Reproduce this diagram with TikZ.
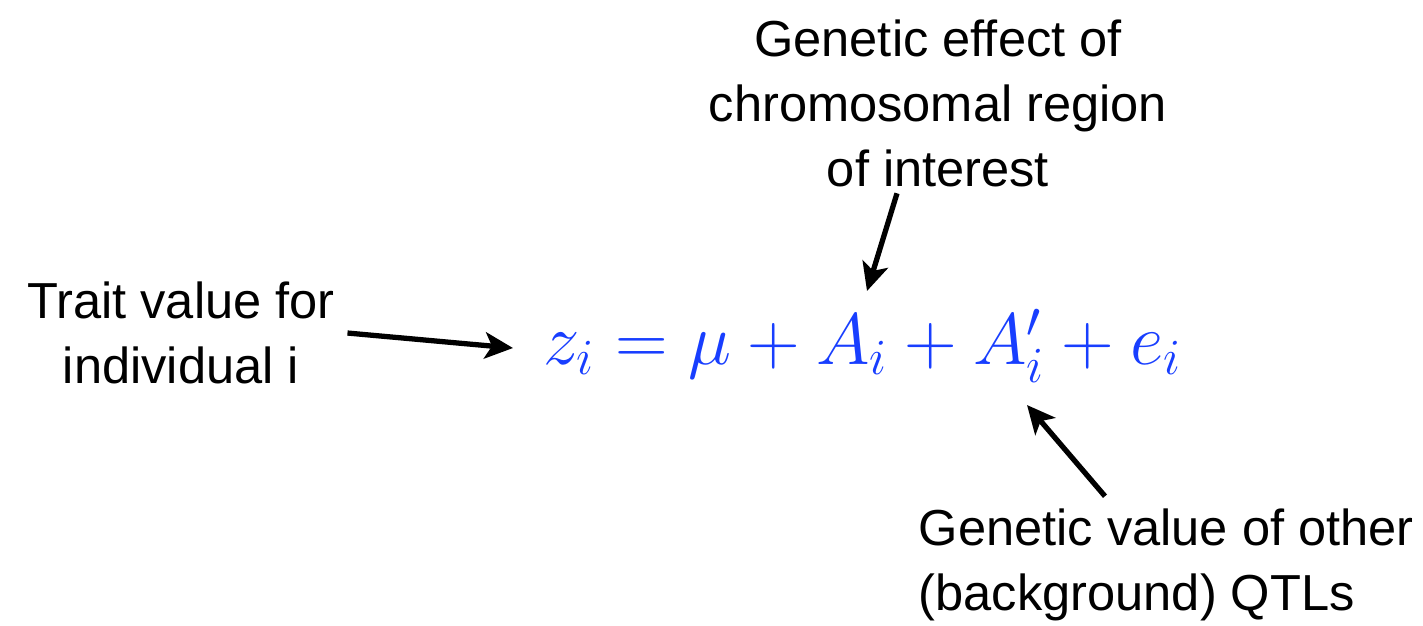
\documentclass[tikz,border=0pt]{standalone}
\usepackage{fontspec}
\setmainfont{Liberation Sans}
\usetikzlibrary{arrows.meta}
\definecolor{eqblue}{RGB}{24,62,255}

\begin{document}
\begin{tikzpicture}[x=1cm,y=1cm,font=\fontsize{14.4}{18.5}\selectfont,
  label text/.style={inner sep=0pt,align=center},
  pointer/.style={line width=1.5pt,-{Stealth[length=8pt,width=7.5pt,inset=2pt]}}]
\useasboundingbox (0,0) rectangle (14.23,-6.25);
\node[anchor=base,text=eqblue,inner sep=0pt] (model-eq) at (8.63,-3.64) {\fontsize{22.2}{26}\selectfont$z_i = \mu + A_i + A'_i + e_i$};
\node[label text] (trait-label) at (1.81,-3.33) {Trait value for\\individual i};
\node[label text] (region-label) at (9.38,-1.03) {Genetic effect of\\chromosomal region\\of interest};
\node[label text,align=left,anchor=west] (background-label) at (9.18,-5.65) {Genetic value of other\\(background) QTLs};
\coordinate (tip-z) at (5.13,-3.48);
\coordinate (tip-A) at (8.67,-2.91);
\coordinate (tip-Aprime) at (10.27,-4.05);
\draw[pointer] ([xshift=0.12cm]trait-label.east) -- (tip-z);
\draw[pointer] ([xshift=-0.41cm,yshift=-0.06cm]region-label.south) -- (tip-A);
\draw[pointer] ([xshift=1.87cm,yshift=0.12cm]background-label.north west) -- (tip-Aprime);
\end{tikzpicture}
\end{document}
